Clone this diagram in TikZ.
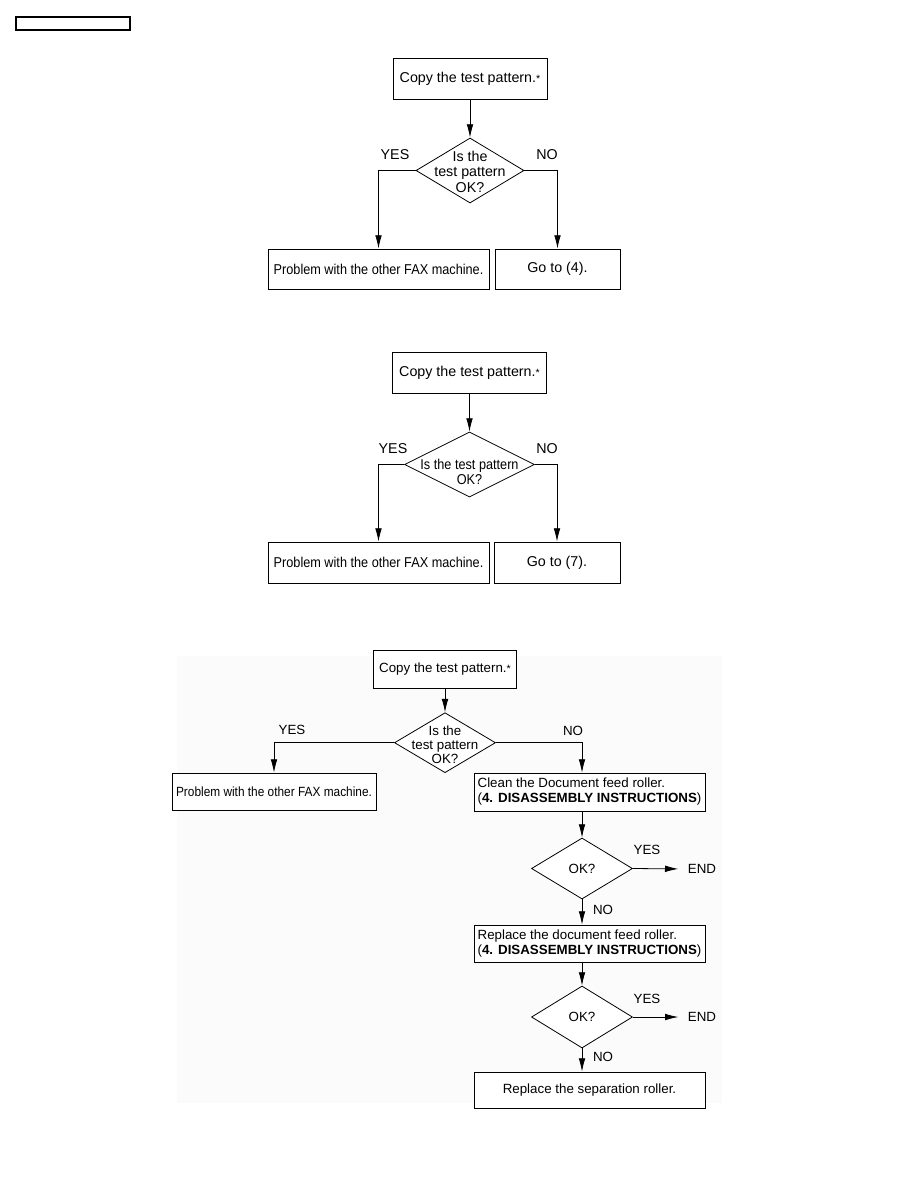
\documentclass[tikz,border=0pt]{standalone}
\usepackage{fontspec}
\setmainfont{Liberation Sans}
\newfontfamily\narrowfont[FakeStretch=0.89]{Liberation Sans}
\usetikzlibrary{arrows.meta,calc,shapes.geometric}
\tikzset{
  sz/.style 2 args={minimum width=#1*0.75pt, minimum height=#2*0.75pt},
  box/.style={draw, line width=0.6pt, inner sep=0pt, align=center},
  dec/.style={diamond, draw, line width=0.6pt, inner sep=0pt},
  lbl/.style={inner sep=0pt},
  arr/.style={line width=0.6pt, -{Latex[length=10pt,width=5pt]}},
  txta/.style={font=\fontsize{10.7pt}{11.3pt}\selectfont},
  txtc/.style={font=\fontsize{10pt}{11.2pt}\selectfont},
  narrow/.style={font=\narrowfont\fontsize{10.7pt}{11pt}\selectfont},
}

\begin{document}
\begin{tikzpicture}[x=0.75pt, y=-0.75pt]
  \useasboundingbox (0,0) rectangle (918,1188);
  \node[draw, line width=0.9pt, sz={114}{13}] (hdr) at (73,23.5) {};

  % first chart
  \begin{scope}[txta]
    \node[box, sz={154}{41}] (copyA) at (470,78.5) {Copy the test pattern.{\footnotesize*}};
    \node[dec, sz={108}{65}, label={[lbl, align=center, txta, yshift=-1pt]center:{Is the\\test pattern\\OK?}}] (decA) at (470,170.5) {};
    \node[box, narrow, sz={221}{40}] (faxA) at (378.5,269) {Problem with the other FAX machine.};
    \node[box, sz={125}{40}] (gotoA) at (557.5,269) {Go to (4).};
    \node[lbl] (yesA) at (395,155) {YES};
    \node[lbl] (noA) at (547,155) {NO};
    \draw[arr] (copyA.south) -- (decA.north);
    \draw[arr] (decA.west) -| (faxA.north);
    \draw[arr] (decA.east) -| (gotoA.north);
  \end{scope}

  % second chart
  \begin{scope}[txta]
    \node[box, sz={154}{41}] (copyB) at (469.5,372.5) {Copy the test pattern.{\footnotesize*}};
    \node[dec, sz={130}{65}, label={[lbl, align=center, narrow, yshift=-5.6pt]center:{Is the test pattern\\OK?}}] (decB) at (469.5,464.5) {};
    \node[box, narrow, sz={221}{41}] (faxB) at (378.5,562.5) {Problem with the other FAX machine.};
    \node[box, sz={126}{41}] (gotoB) at (557,562.5) {Go to (7).};
    \node[lbl] (yesB) at (393,449) {YES};
    \node[lbl] (noB) at (547,449) {NO};
    \draw[arr] (copyB.south) -- (decB.north);
    \draw[arr] (decB.west) -| (faxB.north);
    \draw[arr] (decB.east) -| (gotoB.north);
  \end{scope}

  % third chart
  \fill[black!1.5] (177,656) rectangle (722,1103);
  \begin{scope}[txtc]
    \node[box, fill=white, sz={143}{38}] (copyC) at (445,669) {Copy the test pattern.{\footnotesize*}};
    \node[dec, fill=white, sz={101}{60}, label={[lbl, align=center, txtc, font=\fontsize{10pt}{10.6pt}\selectfont, yshift=-1.5pt]center:{Is the\\test pattern\\OK?}}] (decC) at (445,742.7) {};
    \node[box, fill=white, sz={204}{37}, font=\narrowfont\fontsize{10pt}{11pt}\selectfont] (faxC) at (274,791.5) {Problem with the other FAX machine.};
    \node[box, fill=white, sz={231}{38}, align=left] (cleanC) at (589.5,792) {Clean the Document feed roller.\\(\textbf{4. DISASSEMBLY INSTRUCTIONS})};
    \node[dec, fill=white, sz={101}{61}, label={[lbl, txtc]center:OK?}] (okC) at (582,868.5) {};
    \node[box, fill=white, sz={231}{37}, align=left] (replC) at (589.5,943.5) {Replace the document feed roller.\\(\textbf{4. DISASSEMBLY INSTRUCTIONS})};
    \node[dec, fill=white, sz={101}{62}, label={[lbl, txtc]center:OK?}] (okD) at (582,1017) {};
    \node[box, fill=white, sz={231}{36}] (sepC) at (589.5,1090) {Replace the separation roller.};
    \node[lbl] (yesC) at (292,730) {YES};
    \node[lbl] (noC) at (573,731) {NO};
    \node[lbl] (yesD) at (647,850) {YES};
    \node[lbl] (endC) at (702,869) {END};
    \node[lbl] (noD) at (603,910) {NO};
    \node[lbl] (yesE) at (647,999) {YES};
    \node[lbl] (endD) at (702,1017) {END};
    \node[lbl] (noE) at (603,1057) {NO};
    \draw[arr] (copyC.south) -- (decC.north);
    \draw[arr] (decC.west) -| (faxC.north);
    \draw[arr] (decC.east) -| (okC |- cleanC.north);
    \draw[arr] (okC |- cleanC.south) -- (okC.north);
    \draw[arr, shorten >=7pt] (okC.east) -- (endC.west);
    \draw[arr] (okC.south) -- (okC |- replC.north);
    \draw[arr] (okD |- replC.south) -- (okD.north);
    \draw[arr, shorten >=7pt] (okD.east) -- (endD.west);
    \draw[arr] (okD.south) -- (okD |- sepC.north);
  \end{scope}
\end{tikzpicture}
\end{document}
